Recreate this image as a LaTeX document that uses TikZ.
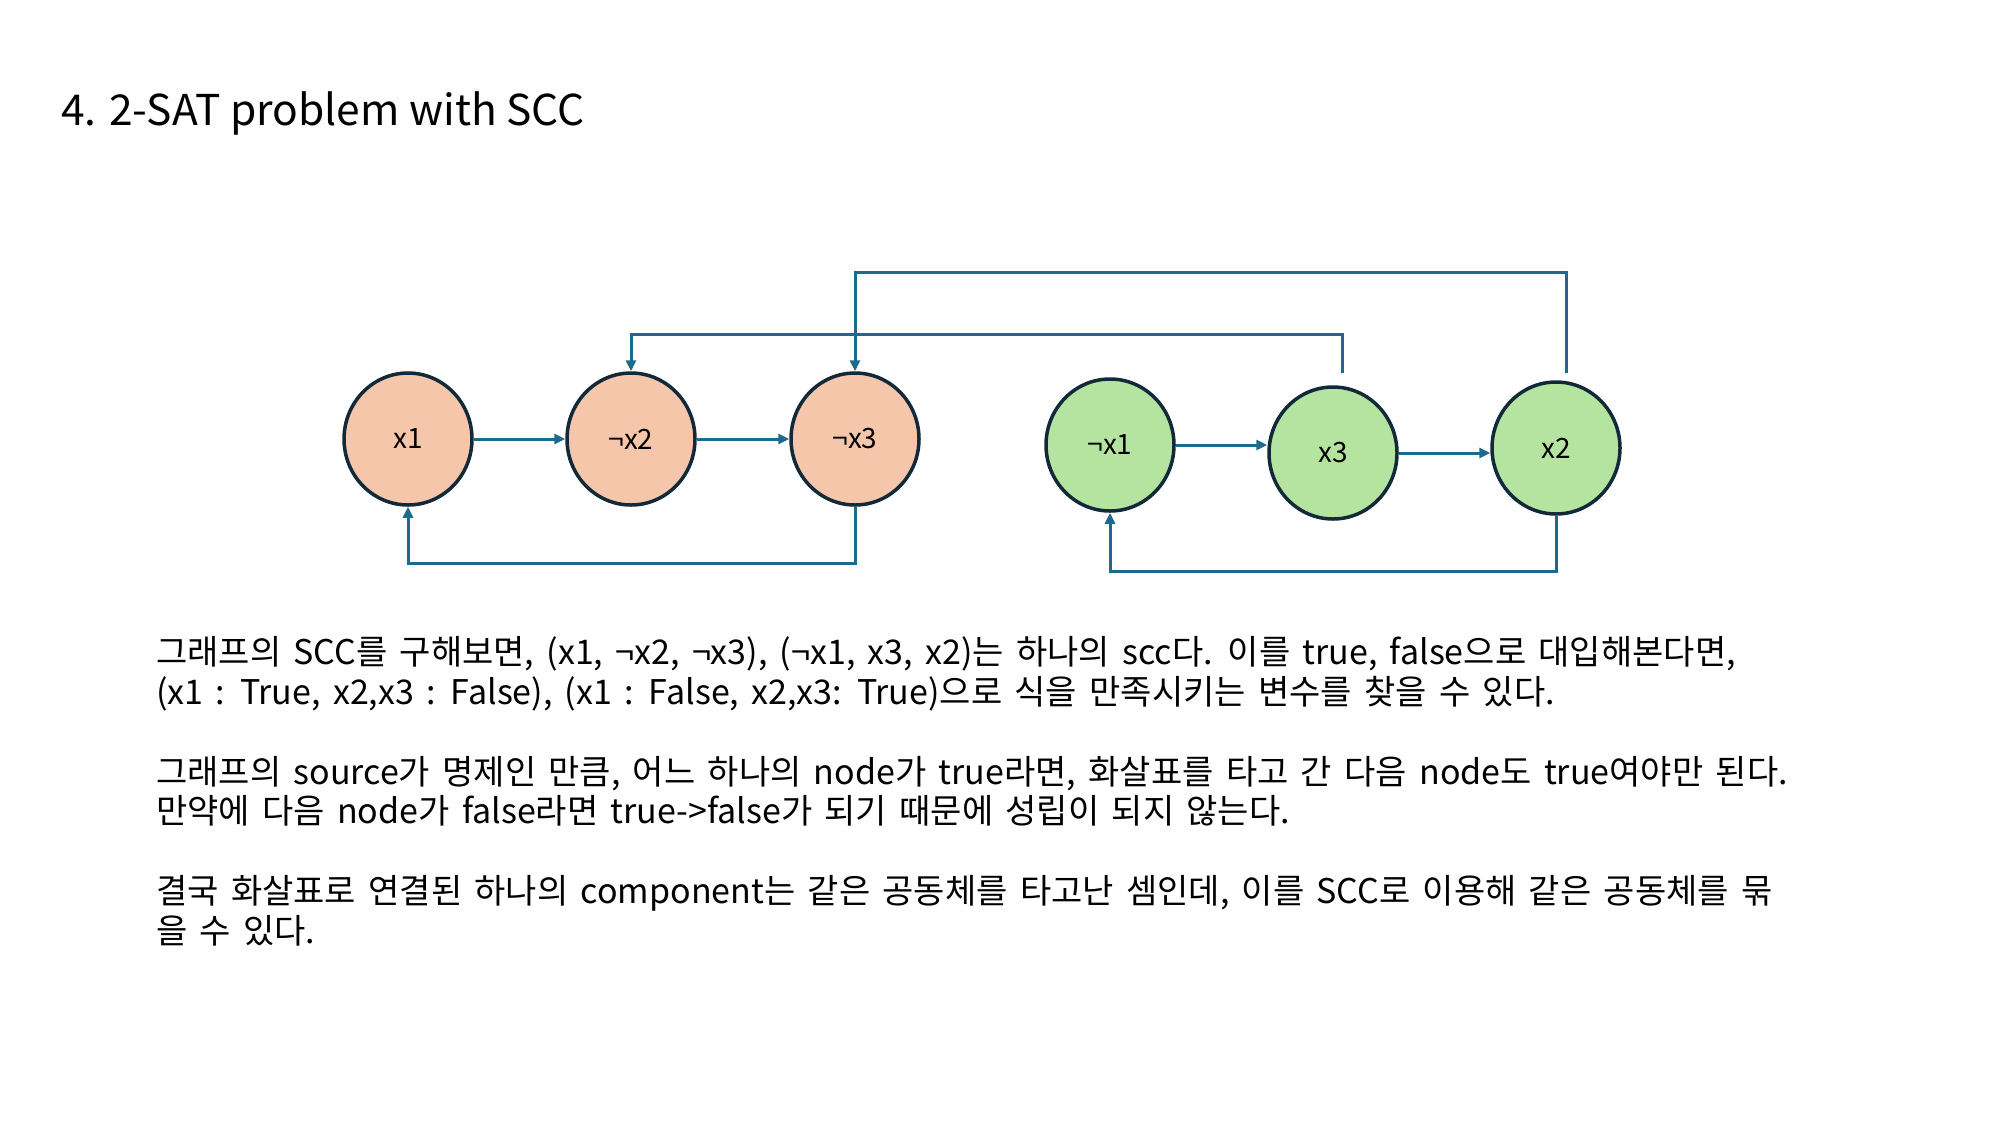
\documentclass[tikz,border=0pt]{standalone}
\usepackage{fontspec}
\setmainfont{Noto Sans CJK KR}
\usetikzlibrary{shapes.geometric,arrows.meta,positioning,calc}
\definecolor{peach}{HTML}{F5C6AA}
\definecolor{mint}{HTML}{B5E3A0}
\definecolor{edgeblue}{HTML}{1D6A8C}
\definecolor{rim}{HTML}{12293A}
\newcommand{\parafont}{\fontsize{34}{40}\selectfont\spaceskip 12.3pt\relax}
\tikzset{
  lit/.style={ellipse,draw=rim,line width=3.5pt,minimum width=128pt,minimum height=132pt,inner sep=0pt,font=\fontsize{28}{32}\selectfont},
  imp/.style={draw=edgeblue,line width=3pt,-{Triangle[length=11pt,width=10pt]}},
  para/.style={anchor=base west,inner sep=0pt,font=\parafont}
}
\begin{document}
\begin{tikzpicture}[x=1pt,y=-1pt]
                \useasboundingbox (0,0) rectangle (2000,1125);
                % title
                \node[anchor=base west,inner sep=0pt,font=\fontsize{42.5}{50}\selectfont] (title) at (61,125) {4. 2-SAT problem with SCC};
                % first component
                \node[lit,fill=peach] (x1) at (408,439) {x1};
                \node[lit,fill=peach] (nx2) at (631,439) {¬x2};
                \node[lit,fill=peach] (nx3) at (855,439) {¬x3};
                % second component
                \node[lit,fill=mint] (nx1) at (1110,445) {¬x1};
                \node[lit,fill=mint] (x3) at (1333,453) {x3};
                \node[lit,fill=mint] (x2) at (1556,448) {x2};
                % edges
                \draw[imp] (x1) -- (nx2);
                \draw[imp] (nx2) -- (nx3);
                \draw[imp] (nx3.south) -- ++(0,57) -| (x1.south);
                \draw[imp] (nx1) -- (nx1 -| x3.west);
                \draw[imp] (x3) -- (x3 -| x2.west);
                \draw[imp] (x2.south) -- ++(0,56) -| (nx1.south);
                % cross edges
                \coordinate (x3top) at ([xshift=9pt,yshift=12pt]x3.north);
                \coordinate (x2top) at ([xshift=10pt,yshift=7pt]x2.north);
                \draw[imp] (x3top) |- (631,334) -- (nx2.north);
                \draw[imp] (x2top) |- (855,272) -- (nx3.north);
                % text
                \node[para] (l1) at (156,664) {그래프의 SCC를 구해보면, (x1, ¬x2, ¬x3), (¬x1, x3, x2)는 하나의 scc다. 이를 true, false으로 대입해본다면,};
                \node[para] (l2) at (156,704) {(x1 : True, x2,x3 : False), (x1 : False, x2,x3: True)으로 식을 만족시키는 변수를 찾을 수 있다.};
                \node[para] (l3) at (156,784) {그래프의 source가 명제인 만큼, 어느 하나의 node가 true라면, 화살표를 타고 간 다음 node도 true여야만 된다.};
                \node[para] (l4) at (156,823) {만약에 다음 node가 false라면 true->false가 되기 때문에 성립이 되지 않는다.};
                \node[para] (l5) at (156,903) {결국 화살표로 연결된 하나의 component는 같은 공동체를 타고난 셈인데, 이를 SCC로 이용해 같은 공동체를 묶};
                \node[para] (l6) at (156,943) {을 수 있다.};
            \end{tikzpicture}
\end{document}
